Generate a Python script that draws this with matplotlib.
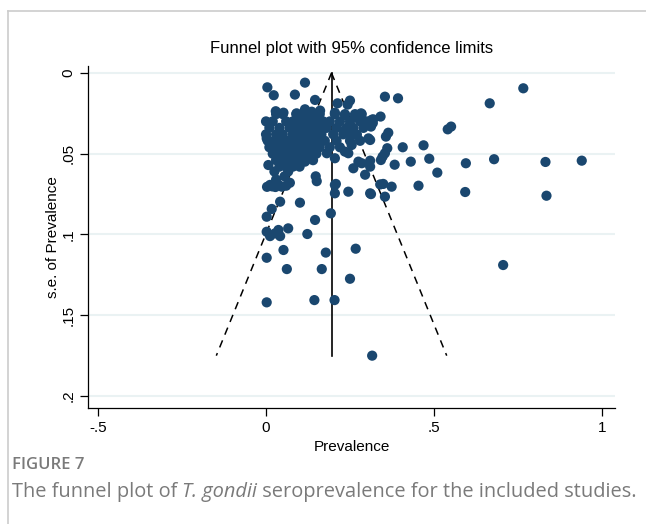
import matplotlib
matplotlib.use('Agg')
import matplotlib.pyplot as plt
from matplotlib.lines import Line2D

# study prevalence (x) and its standard error (y)
prev_outer = [0.766, 0.666, 0.541, 0.551, 0.354, 0.393, 0.341, 0.364, 0.357, 0.407,
              0.469, 0.361, 0.354, 0.347, 0.342, 0.431, 0.486, 0.383, 0.510, 0.595,
              0.679, 0.832, 0.940, 0.349, 0.374, 0.454, 0.593, 0.354, 0.835, 0.706,
              0.316, 0.315, 0.318, 0.3125, 0.310, 0.310, 0.310, 0.3125]
se_outer = [0.0095, 0.0188, 0.0349, 0.0332, 0.0147, 0.0157, 0.0270, 0.0370, 0.0394, 0.0460,
            0.0448, 0.0466, 0.0497, 0.0518, 0.0539, 0.0549, 0.0531, 0.0568, 0.0617, 0.0559,
            0.0534, 0.0551, 0.0543, 0.0687, 0.0704, 0.0698, 0.0737, 0.0766, 0.0760, 0.1189,
            0.1750, 0.0290, 0.0310, 0.0332, 0.0415, 0.0543, 0.0580, 0.0750]

prev_top = [0.004, 0.116, 0.023, 0.086, 0.146, 0.213, 0.250, 0.243, 0.029, 0.052,
            0.091, 0.116, 0.136, 0.161, 0.205, 0.235, 0.265, 0.283, 0.319]
se_top = [0.0089, 0.0060, 0.0138, 0.0134, 0.0167, 0.0188, 0.0171, 0.0196, 0.0237, 0.0246,
          0.0250, 0.0225, 0.0240, 0.0233, 0.0246, 0.0260, 0.0270, 0.0250, 0.0287]

prev_mid = [0.002, 0.007, 0.012, 0.025, 0.042, 0.066, 0.071, 0.037, 0.047, 0.148,
            0.151, 0.205, 0.245, 0.310, 0.205, 0.116, 0.131, 0.181, 0.205, 0.235,
            0.245, 0.255, 0.275, 0.285, 0.260, 0.295, 0.340, 0.250, 0.235, 0.270,
            0.305, 0.208, 0.003, 0.018, 0.028, 0.060, 0.030, 0.055]
se_mid = [0.0405, 0.0570, 0.0693, 0.0610, 0.0560, 0.0610, 0.0680, 0.0693, 0.0704, 0.0640,
          0.0670, 0.0693, 0.0735, 0.0745, 0.0745, 0.0549, 0.0528, 0.0497, 0.0528, 0.0487,
          0.0497, 0.0446, 0.0549, 0.0559, 0.0590, 0.0630, 0.0690, 0.0373, 0.0353, 0.0384,
          0.0405, 0.0687, 0.0705, 0.0702, 0.0706, 0.0698, 0.0660, 0.0640]

prev_low = [0.042, 0.017, 0.002, 0.101, 0.146, 0.193, 0.002, 0.012, 0.027, 0.037,
            0.042, 0.066, 0.123, 0.052, 0.002, 0.178, 0.267, 0.062, 0.166, 0.250,
            0.002, 0.144, 0.204]
se_low = [0.0797, 0.0842, 0.0890, 0.0803, 0.0910, 0.0869, 0.0983, 0.1010, 0.0993, 0.0972,
          0.1010, 0.0962, 0.0997, 0.1096, 0.1144, 0.1112, 0.1088, 0.1214, 0.1214, 0.1274,
          0.1420, 0.1406, 0.1406]

# dense cluster, row by row
cluster_rows = {
    0.0255: [0.03, 0.05, 0.09, 0.11, 0.125, 0.14, 0.16, 0.205, 0.235, 0.265, 0.285],
    0.030: [0.0, 0.02, 0.06, 0.08, 0.10, 0.12, 0.13, 0.15, 0.17, 0.19, 0.22, 0.25, 0.28, 0.30],
    0.034: [0.01, 0.04, 0.07, 0.09, 0.11, 0.135, 0.155, 0.18, 0.21, 0.24, 0.26, 0.29],
    0.038: [0.0, 0.03, 0.05, 0.08, 0.10, 0.12, 0.14, 0.165, 0.20, 0.23, 0.27],
    0.042: [0.005, 0.025, 0.045, 0.065, 0.085, 0.105, 0.13, 0.15, 0.175, 0.21, 0.25, 0.28],
    0.046: [0.01, 0.035, 0.055, 0.075, 0.095, 0.115, 0.14, 0.16, 0.19, 0.22],
    0.050: [0.02, 0.04, 0.06, 0.08, 0.10, 0.125, 0.15],
    0.054: [0.03, 0.05, 0.07, 0.09, 0.11, 0.14],
    0.058: [0.04, 0.06, 0.08, 0.10],
}

pooled = 0.195
se_max = 0.175

navy = '#1a476f'
grid_col = '#eaf2f3'

plt.rcParams['font.family'] = ['Liberation Sans', 'DejaVu Sans']

fig = plt.figure(figsize=(6.46, 5.24), dpi=100)
ax = fig.add_axes([88 / 646, 1 - 408 / 524, (615 - 88) / 646, (408 - 66) / 524])

prev = prev_outer + prev_top + prev_mid + prev_low
se = se_outer + se_top + se_mid + se_low
for s, xs in cluster_rows.items():
    prev += xs
    se += [s] * len(xs)

# funnel
ax.plot([pooled, pooled], [0, se_max], color='black', lw=1.2, zorder=2)
ax.plot([pooled, pooled - 1.96 * se_max], [0, se_max], color='black', lw=1.1,
        ls=(0, (5, 4)), zorder=2)
ax.plot([pooled, pooled + 1.96 * se_max], [0, se_max], color='black', lw=1.1,
        ls=(0, (5, 4)), zorder=2)

ax.scatter(prev, se, s=54, color=navy, edgecolors='none', zorder=3)

ax.set_xlim(-0.530, 1.039)
ax.set_ylim(0.2074, -0.0043)

ax.set_xticks([-0.5, 0, 0.5, 1])
ax.set_xticklabels(['-.5', '0', '.5', '1'])
ax.set_yticks([0, 0.05, 0.1, 0.15, 0.2])
ax.set_yticklabels(['0', '.05', '.1', '.15', '.2'], rotation=90, va='center')
ax.tick_params(axis='both', direction='out', length=6, width=0.9, labelsize=11, pad=3)
for y in [0, 0.05, 0.1, 0.15, 0.2]:
    ax.axhline(y, color=grid_col, lw=1.5, zorder=0)

for side in ['top', 'right']:
    ax.spines[side].set_visible(False)
ax.spines['left'].set_linewidth(0.9)
ax.spines['bottom'].set_linewidth(0.9)

ax.set_xlabel('Prevalence', fontsize=11, labelpad=4)
ax.set_ylabel('s.e. of Prevalence', fontsize=11, labelpad=1)
fig.text(352 / 646, 1 - 48 / 524, 'Funnel plot with 95% confidence limits',
         ha='center', va='center', fontsize=12)

# card frame
fig.add_artist(Line2D([8 / 646, 1], [1 - 11 / 524, 1 - 11 / 524], color='#cccccc', lw=1.2))
fig.add_artist(Line2D([8 / 646, 8 / 646], [1 - 11 / 524, 0], color='#cccccc', lw=1.2))

# caption
cap = '#7a7a7a'
fig.text(12 / 646, 1 - 465 / 524, 'FIGURE 7', family='Open Sans', fontsize=12,
         color=cap, va='center', weight='semibold')
fig.canvas.draw()
r = fig.canvas.get_renderer()
x0 = 12
parts = [('The funnel plot of ', 'normal'), ('T. gondii', 'italic'),
         (' seroprevalence for the included studies.', 'normal')]
for txt, sty in parts:
    t = fig.text(x0 / 646, 1 - 492 / 524, txt, family='Open Sans', fontsize=14.4,
                 color=cap, va='center', style=sty)
    bb = t.get_window_extent(renderer=r)
    x0 += bb.width

fig.savefig('out.png', dpi=100)
plt.close(fig)
